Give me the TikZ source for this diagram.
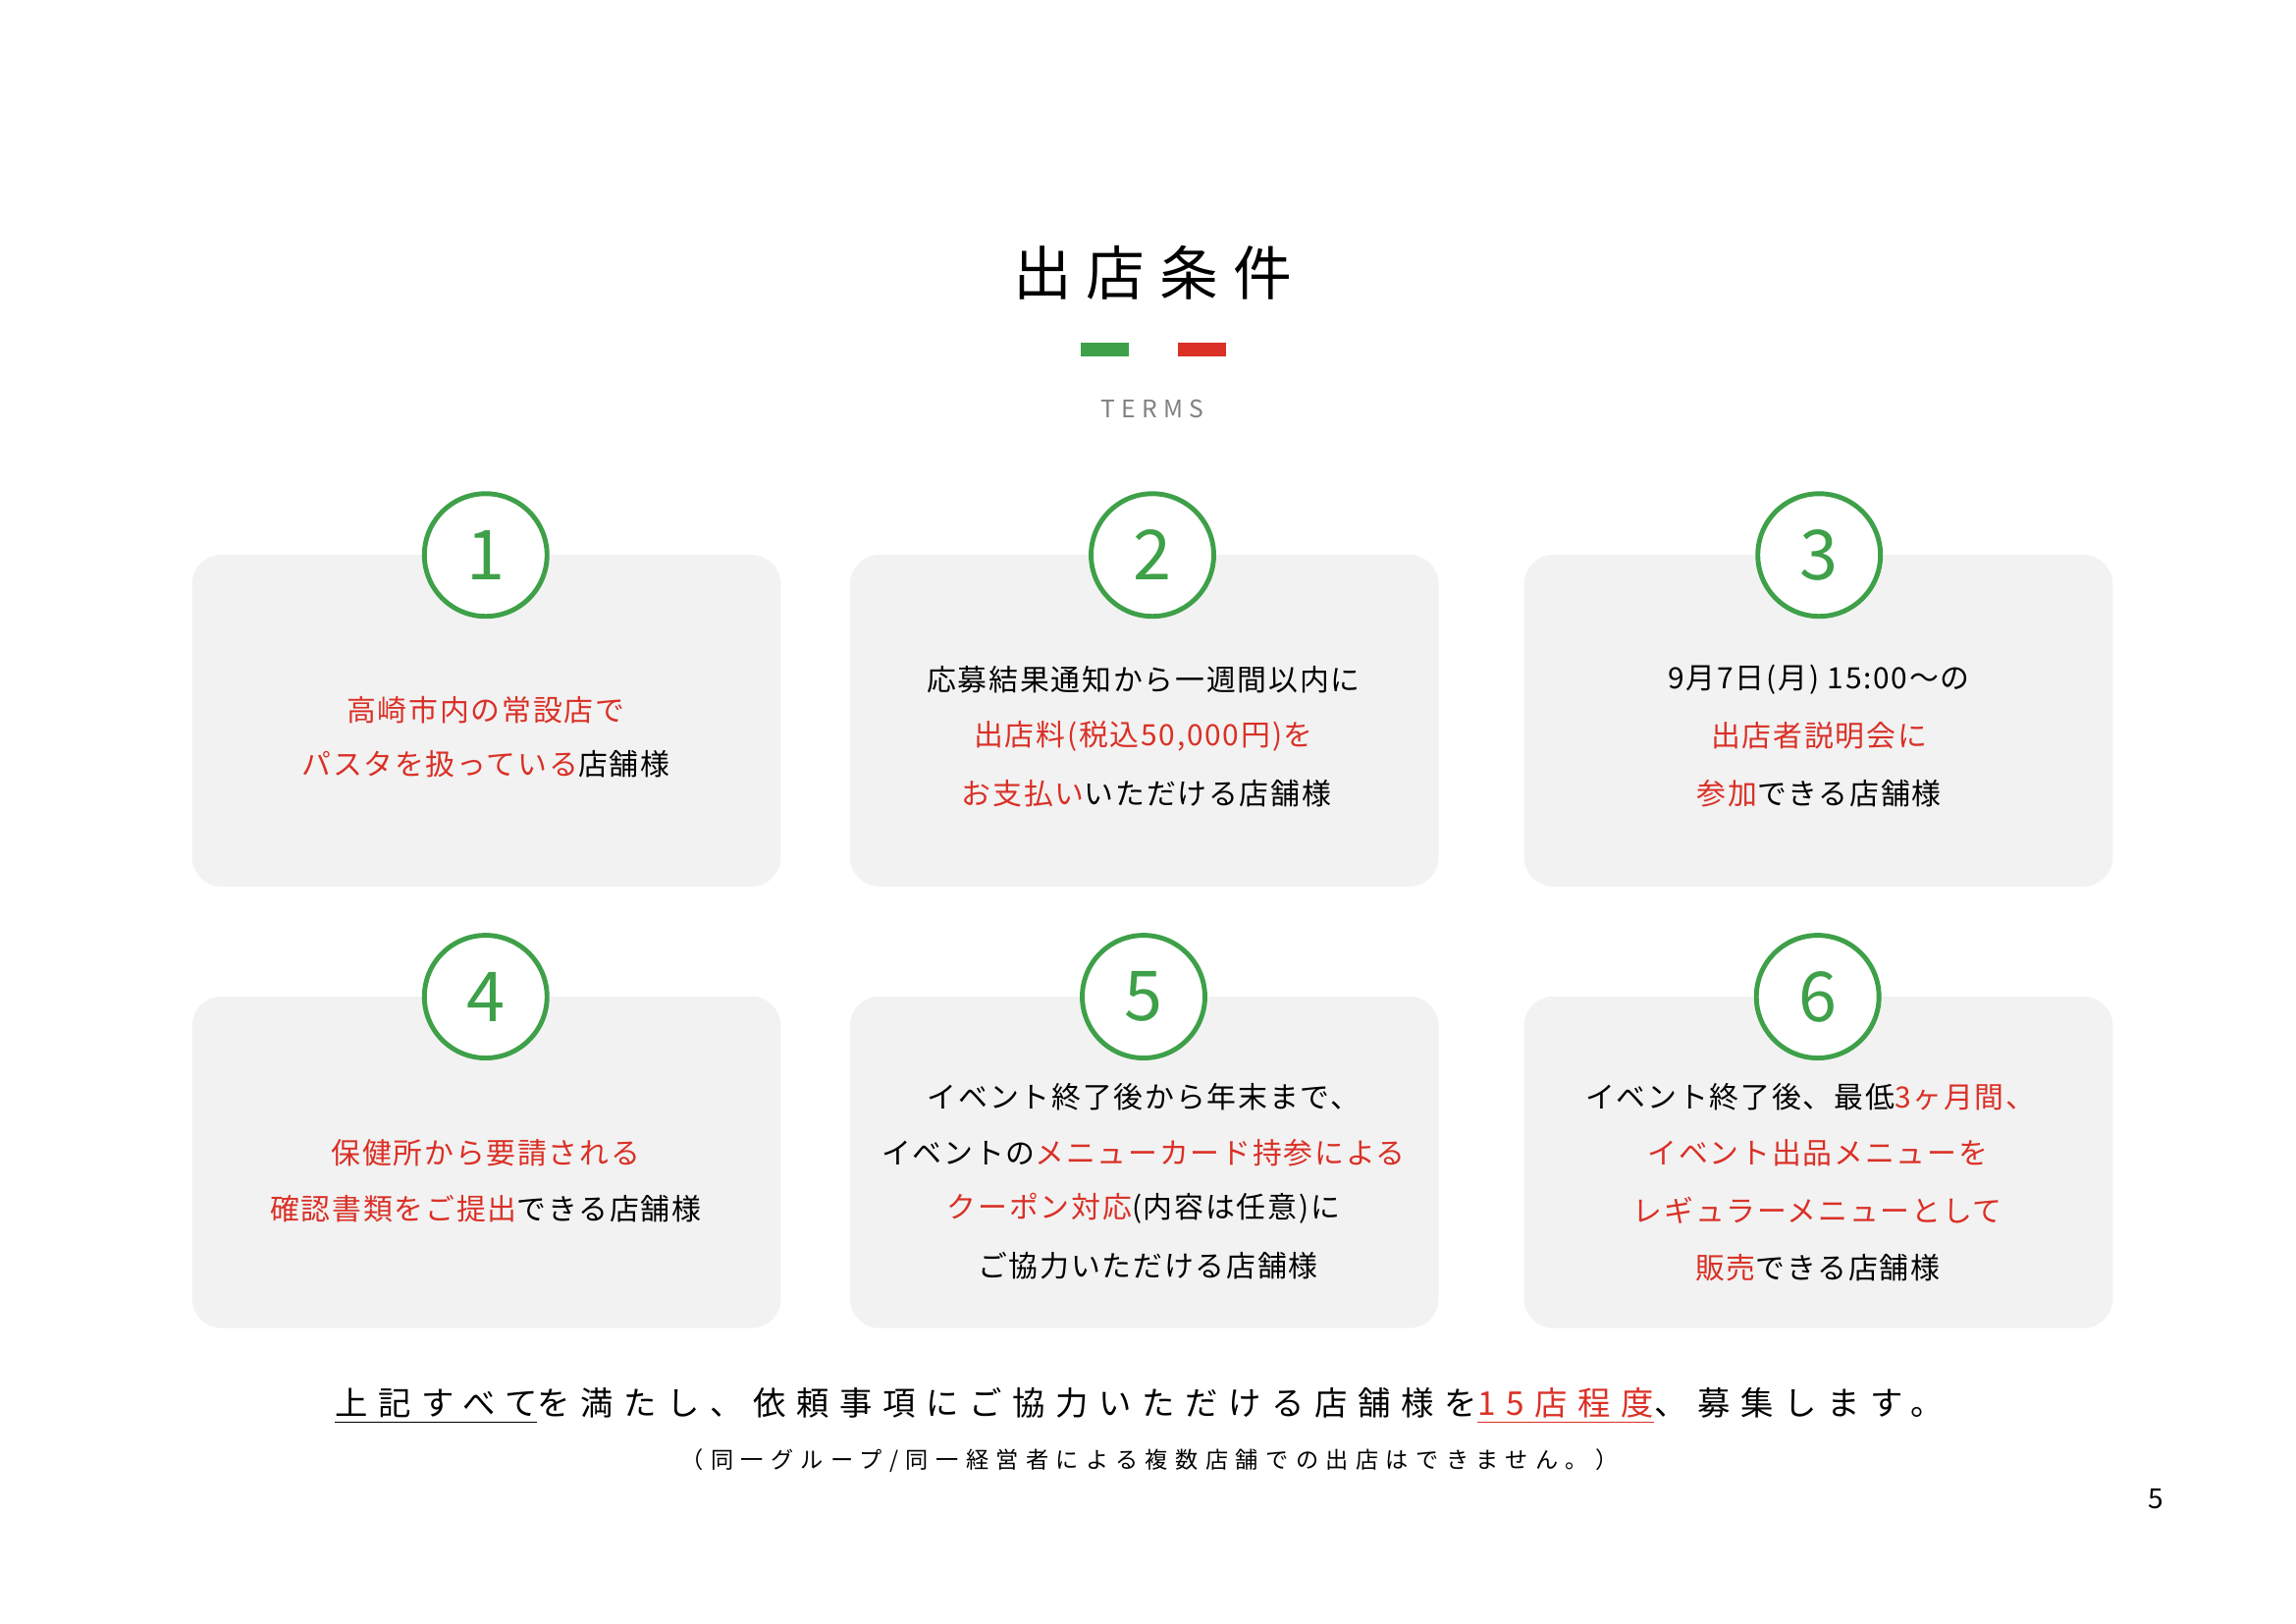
\documentclass[tikz,border=0pt]{standalone}
\usepackage{fontspec}
\setmainfont{Noto Sans CJK JP}
\newfontfamily\jpbold{Noto Sans CJK JP Bold}
\usetikzlibrary{positioning}
\definecolor{termgreen}{RGB}{62,160,72}
\definecolor{termred}{RGB}{218,48,38}
\definecolor{cardgray}{RGB}{242,242,242}
\tikzset{
  card/.style={fill=cardgray, rounded corners=0.3cm, minimum width=6.0cm, minimum height=3.38cm},
  badge/.style={circle, draw=termgreen, line width=1.4pt, fill=white, minimum size=1.25cm,
    text=termgreen, font=\fontsize{20}{20}\selectfont},
  line/.style={font=\fontsize{8.5}{10}\selectfont\addfontfeature{LetterSpace=6}, inner sep=0pt},
}
\newcommand{\rd}[1]{\textcolor{termred}{#1}}
\begin{document}
\begin{tikzpicture}[x=0.015cm, y=-0.015cm]
    \useasboundingbox (0,0) rectangle (1560,1103);
    % Title
    \node[font=\fontsize{17}{17}\selectfont\addfontfeature{LetterSpace=25}] (title) at (783,185) {出店条件};
    \fill[termgreen] (734,233) rectangle (767,242);
    \fill[termred] (800,233) rectangle (833,242);
    \node[text=gray, font=\fontsize{7}{7}\selectfont\addfontfeature{LetterSpace=25}] (terms) at (783,278) {TERMS};

    % Boxes
    \node[card] (c1) at (330.5,489.5) {};
    \node[card] (c2) at (777.5,489.5) {};
    \node[card] (c3) at (1235.5,489.5) {};
    \node[card] (c4) at (330.5,789.5) {};
    \node[card] (c5) at (777.5,789.5) {};
    \node[card] (c6) at (1235.5,789.5) {};

    % Numbers
    \node[badge] (n1) at (330,377) {1};
    \node[badge] (n2) at (783,377) {2};
    \node[badge] (n3) at (1236,377) {3};
    \node[badge] (n4) at (330,677) {4};
    \node[badge] (n5) at (777,677) {5};
    \node[badge] (n6) at (1235,677) {6};

    % Labels
    \node[line] (t1a) at (330,482) {\rd{高崎市内の常設店で}};
    \node[line] (t1b) at (330,519) {\rd{パスタを扱っている}店舗様};

    \node[line] (t2a) at (777,462) {応募結果通知から一週間以内に};
    \node[line] (t2b) at (777,500) {\rd{出店料(税込50,000円)を}};
    \node[line] (t2c) at (779,539) {\rd{お支払い}いただける店舗様};

    \node[line] (t3a) at (1236,462) {9月7日(月) 15:00〜の};
    \node[line] (t3b) at (1236,500) {\rd{出店者説明会に}};
    \node[line] (t3c) at (1236,539) {\rd{参加}できる店舗様};

    \node[line] (t4a) at (330,783) {\rd{保健所から要請される}};
    \node[line] (t4b) at (330,821) {\rd{確認書類をご提出}できる店舗様};

    \node[line] (t5a) at (777,745) {イベント終了後から年末まで、};
    \node[line] (t5b) at (777,783) {イベントの\rd{メニューカード持参による}};
    \node[line] (t5c) at (777,821) {\rd{クーポン対応}(内容は任意)に};
    \node[line] (t5d) at (780,860) {ご協力いただける店舗様};

    \node[line] (t6a) at (1230,745) {イベント終了後、最低\rd{3ヶ月間、}};
    \node[line] (t6b) at (1235,783) {\rd{イベント出品メニューを}};
    \node[line] (t6c) at (1235,822) {\rd{レギュラーメニューとして}};
    \node[line] (t6d) at (1235,861) {\rd{販売}できる店舗様};

    % Footer
    \node[inner sep=0pt, font=\fontsize{9.5}{10}\selectfont\addfontfeature{LetterSpace=32}] (foot) at (774,955)
      {\underline{上記すべて}を満たし、依頼事項にご協力いただける店舗様を\rd{\underline{15店程度}}、募集します。};
    \node[inner sep=0pt, font=\fontsize{6.6}{7}\selectfont\addfontfeature{LetterSpace=32}] (note) at (781,992)
      {（同一グループ/同一経営者による複数店舗での出店はできません。）};
    \node[font=\fontsize{8}{8}\selectfont] (page) at (1465,1018) {5};
\end{tikzpicture}
\end{document}
